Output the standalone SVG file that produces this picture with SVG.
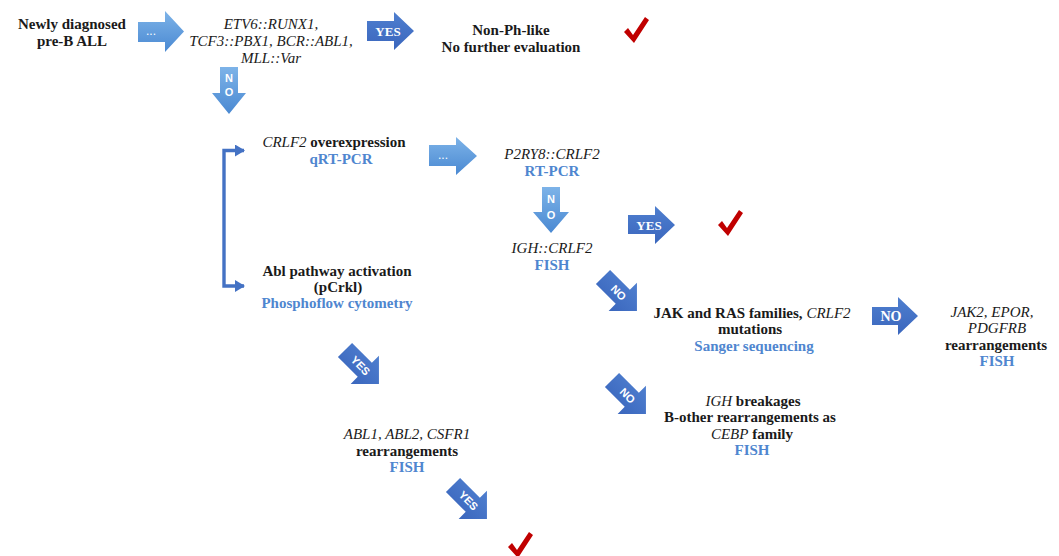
<svg xmlns="http://www.w3.org/2000/svg" width="1059" height="556" viewBox="0 0 1059 556">
<defs>
  <linearGradient id="gl" x1="0" y1="0" x2="0" y2="1">
    <stop offset="0" stop-color="#7db3e8"/>
    <stop offset="1" stop-color="#4a89d2"/>
  </linearGradient>
  <linearGradient id="gd" x1="0" y1="0" x2="0" y2="1">
    <stop offset="0" stop-color="#4f7fcf"/>
    <stop offset="1" stop-color="#3a66bd"/>
  </linearGradient>
  <marker id="ah" viewBox="0 0 10 12" refX="9" refY="6" markerWidth="10" markerHeight="12" markerUnits="userSpaceOnUse" orient="auto-start-reverse">
    <path d="M0,0L10,6L0,12Z" fill="#4472c4"/>
  </marker>
  <path id="da" d="M0,-10H28V-20L48,0L28,20V10H0Z"/>
  <path id="ck" d="M0,15L4,11L9,18L21,0L25,3L10,26Z"/>
</defs>
<style>
  .t{font-family:"Liberation Serif","Times New Roman",serif;font-size:15px;font-weight:bold;fill:#1a1a1a;text-anchor:middle}
  .i{font-style:italic;font-weight:normal}
  .b{fill:#4f86cf}
  .al{fill:url(#gl)}
  .ad{fill:url(#gd)}
  .lab{font-family:"Liberation Serif","Times New Roman",serif;font-size:13px;font-weight:bold;fill:#ffffff;text-anchor:middle}
  .sl{font-family:"Liberation Sans",Arial,sans-serif;font-size:11px;font-weight:bold;fill:#ffffff;text-anchor:middle}
  .dots{font-family:"Liberation Sans",Arial,sans-serif;font-size:12px;fill:#ffffff;text-anchor:middle}
  .ck{fill:#c00000}
  .conn{fill:none;stroke:#4472c4;stroke-width:3.4}
</style>
<rect width="1059" height="556" fill="#ffffff"/>

<g id="connectors">
  <g id="arrow-start-dots">
    <path class="al" d="M138,22H165V11L184,31.5L165,52V42H138Z"/>
    <text class="dots" x="151" y="35">...</text>
  </g>
  <g id="arrow-yes-1">
    <path class="ad" d="M367,21H394V12L414,31L394,50V41H367Z"/>
    <text class="lab" x="388" y="36">YES</text>
  </g>
  <g id="arrow-no-down-1">
    <path class="al" d="M220,67H238V93H246L229,114L212,93H220Z"/>
    <text class="sl" x="229" y="82">N</text>
    <text class="sl" x="229" y="96">O</text>
  </g>
  <g id="bracket">
    <polyline class="conn" points="244,150.5 224,150.5 224,286 244,286" marker-start="url(#ah)" marker-end="url(#ah)"/>
  </g>
  <g id="arrow-dots-2">
    <path class="al" d="M429,145H456V137L477,156L456,175V166H429Z"/>
    <text class="dots" x="443" y="159">...</text>
  </g>
  <g id="arrow-no-down-2">
    <path class="al" d="M542,187H560V212H569L551,233L533,212H542Z"/>
    <text class="sl" x="551" y="203">N</text>
    <text class="sl" x="551" y="219">O</text>
  </g>
  <g id="arrow-yes-2">
    <path class="ad" d="M628,215H655V206L675,225L655,244V234H628Z"/>
    <text class="lab" x="649" y="230">YES</text>
  </g>
  <g id="arrow-no-diag-1" transform="translate(603,277) rotate(45)">
    <use href="#da" class="ad"/>
    <text class="sl" x="22" y="4">NO</text>
  </g>
  <g id="arrow-no-right">
    <path class="ad" d="M872,307H898V297L918,316L898,335V325H872Z"/>
    <text class="lab" x="891" y="321" style="font-size:14px">NO</text>
  </g>
  <g id="arrow-no-diag-2" transform="translate(612,380) rotate(45)">
    <use href="#da" class="ad"/>
    <text class="sl" x="22" y="4">NO</text>
  </g>
  <g id="arrow-yes-diag-1" transform="translate(345,350) rotate(45)">
    <use href="#da" class="ad"/>
    <text class="sl" x="22" y="4">YES</text>
  </g>
  <g id="arrow-yes-diag-2" transform="translate(453,485) rotate(45)">
    <use href="#da" class="ad"/>
    <text class="sl" x="22" y="4">YES</text>
  </g>
</g>

<g id="node-start">
  <text class="t" x="72" y="29">Newly diagnosed</text>
  <text class="t" x="72" y="46">pre-B ALL</text>
</g>
<g id="node-fusions">
  <text class="t i" x="271" y="29">ETV6::RUNX1,</text>
  <text class="t i" x="271" y="46">TCF3::PBX1, BCR::ABL1,</text>
  <text class="t i" x="271" y="63">MLL::Var</text>
</g>
<g id="node-nonph">
  <text class="t" x="511" y="35">Non-Ph-like</text>
  <text class="t" x="511" y="52">No further evaluation</text>
</g>
<g id="check-1"><use href="#ck" class="ck" transform="translate(624,17)"/></g>

<g id="node-crlf2">
  <text class="t" x="334" y="147"><tspan class="i">CRLF2</tspan> overexpression</text>
  <text class="t b" x="341" y="164">qRT-PCR</text>
</g>
<g id="node-abl">
  <text class="t" x="337" y="276">Abl pathway activation</text>
  <text class="t" x="338" y="292">(pCrkl)</text>
  <text class="t b" x="337" y="308">Phosphoflow cytometry</text>
</g>
<g id="node-p2ry8">
  <text class="t i" x="552" y="159">P2RY8::CRLF2</text>
  <text class="t b" x="552" y="176">RT-PCR</text>
</g>
<g id="node-igh-crlf2">
  <text class="t i" x="552" y="253">IGH::CRLF2</text>
  <text class="t b" x="552" y="270">FISH</text>
</g>
<g id="check-2"><use href="#ck" class="ck" transform="translate(718,210)"/></g>

<g id="node-jak-ras">
  <text class="t" x="752" y="318">JAK and RAS families, <tspan class="i">CRLF2</tspan></text>
  <text class="t" x="750" y="334">mutations</text>
  <text class="t b" x="754" y="351">Sanger sequencing</text>
</g>
<g id="node-jak2">
  <text class="t i" x="992" y="317">JAK2, EPOR,</text>
  <text class="t i" x="997" y="333">PDGFRB</text>
  <text class="t" x="996" y="350">rearrangements</text>
  <text class="t b" x="997" y="366">FISH</text>
</g>
<g id="node-igh-breakages">
  <text class="t" x="753" y="406"><tspan class="i">IGH</tspan> breakages</text>
  <text class="t" x="750" y="422">B-other rearrangements as</text>
  <text class="t" x="752" y="439"><tspan class="i">CEBP</tspan> family</text>
  <text class="t b" x="752" y="455">FISH</text>
</g>
<g id="node-abl1">
  <text class="t i" x="407" y="439">ABL1, ABL2, CSFR1</text>
  <text class="t" x="407" y="456">rearrangements</text>
  <text class="t b" x="407" y="472">FISH</text>
</g>
<g id="check-3"><use href="#ck" class="ck" transform="translate(508,532)"/></g>
</svg>
